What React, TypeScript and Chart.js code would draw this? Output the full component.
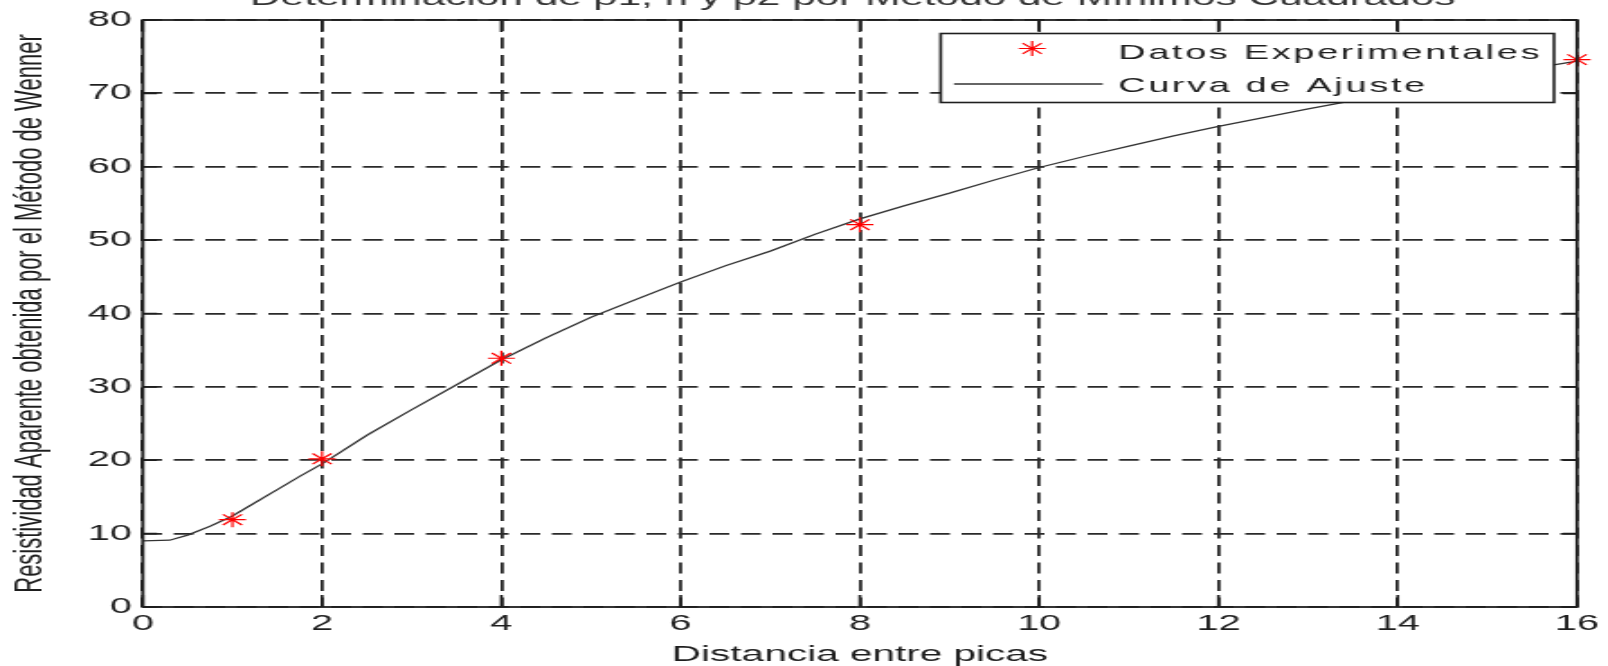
import { useEffect, useRef } from 'react';
import { Chart, registerables } from 'chart.js';

Chart.register(...registerables);

// ---------- data ----------
const TITLE = 'Determinación de ρ1, h y ρ2 por Método de Mínimos Cuadrados';
const X_TITLE = 'Distancia entre picas';
const Y_TITLE = 'Resistividad Aparente obtenida por el Método de Wenner';
const SERIES_LABELS = ['Datos Experimentales', 'Curva de Ajuste'];

const expX = [1, 2, 4, 8, 16];
const expY = [11.9, 20.2, 33.9, 52.1, 74.6];

const fitX = [0, 0.3, 0.5, 0.75, 1, 1.25, 1.5, 1.75, 2, 2.5, 3, 3.5, 4, 4.5, 5, 5.5, 6, 6.5, 7, 7.5, 8, 8.5, 9, 9.5, 10, 10.5, 11, 11.5, 12, 12.5, 13, 13.5, 14, 14.5, 15, 15.5, 16];
const fitY = [9.0, 9.1, 9.8, 11.0, 12.4, 14.2, 16.0, 17.8, 19.5, 23.4, 26.9, 30.3, 33.7, 36.7, 39.5, 41.9, 44.3, 46.5, 48.5, 50.8, 52.9, 54.7, 56.4, 58.2, 59.9, 61.4, 62.8, 64.2, 65.5, 66.7, 67.9, 69.0, 70.1, 71.2, 72.3, 73.4, 74.4];

const X_MIN = 0, X_MAX = 16, X_STEP = 2;
const Y_MIN = 0, Y_MAX = 80, Y_STEP = 10;

// ---------- styles ----------
const FONT = "'Liberation Sans', Arial, Helvetica, sans-serif";
const INK = '#1e1e1e';
const GRID = '#2a2a2a';
const RED = '#ff0000';
const CANVAS_W = 893; // drawn narrow, shown stretched like the reference
const CANVAS_H = 666;

function drawStar(ctx: CanvasRenderingContext2D, x: number, y: number, r: number) {
  const d = Math.cos(Math.PI / 4) * r;
  ctx.beginPath();
  ctx.moveTo(x - r, y); ctx.lineTo(x + r, y);
  ctx.moveTo(x, y - r); ctx.lineTo(x, y + r);
  ctx.moveTo(x - d, y - d); ctx.lineTo(x + d, y + d);
  ctx.moveTo(x - d, y + d); ctx.lineTo(x + d, y - d);
  ctx.stroke();
}

const boxPlugin = {
  id: 'matlabBox',
  afterDatasetsDraw(chart: any) {
    const { ctx, chartArea: a, scales } = chart;
    ctx.save();
    ctx.strokeStyle = INK;
    ctx.setLineDash([]);
    ctx.lineWidth = 1.6;
    const tl = 12, tlY = 8;
    ctx.beginPath();
    scales.x.ticks.forEach((t: any) => {
      const px = scales.x.getPixelForValue(t.value);
      ctx.moveTo(px, a.bottom); ctx.lineTo(px, a.bottom - tl);
      ctx.moveTo(px, a.top); ctx.lineTo(px, a.top + tl);
    });
    scales.y.ticks.forEach((t: any) => {
      const py = scales.y.getPixelForValue(t.value);
      ctx.moveTo(a.left, py); ctx.lineTo(a.left + tlY, py);
      ctx.moveTo(a.right, py); ctx.lineTo(a.right - tlY, py);
    });
    ctx.stroke();
    ctx.lineWidth = 1.8;
    ctx.strokeRect(a.left, a.top, a.right - a.left, a.bottom - a.top);
    ctx.restore();
  },
};

const legendPlugin = {
  id: 'matlabLegend',
  afterDraw(chart: any) {
    const { ctx } = chart;
    const L = { left: 522.4, top: 33.5, right: 863, bottom: 102.5 };
    ctx.save();
    ctx.fillStyle = '#ffffff';
    ctx.fillRect(L.left, L.top, L.right - L.left, L.bottom - L.top);
    ctx.strokeStyle = INK;
    ctx.lineWidth = 1.6;
    ctx.setLineDash([]);
    ctx.strokeRect(L.left, L.top, L.right - L.left, L.bottom - L.top);
    ctx.strokeStyle = RED;
    ctx.lineWidth = 1.2;
    drawStar(ctx, 573.2, 48.5, 7.5);
    ctx.strokeStyle = '#333333';
    ctx.lineWidth = 1.3;
    ctx.beginPath();
    ctx.moveTo(529.8, 84); ctx.lineTo(612.4, 84);
    ctx.stroke();
    const labels = chart.data.datasets.map((d: any) => d.label);
    ctx.fillStyle = INK;
    ctx.font = `21px ${FONT}`;
    (ctx as any).letterSpacing = '1.5px';
    ctx.textAlign = 'left';
    ctx.textBaseline = 'alphabetic';
    ctx.fillText(labels[0], 621, 58.5);
    ctx.fillText(labels[1], 621, 91.7);
    ctx.restore();
  },
};

const titlePlugin = {
  id: 'cutTitle',
  afterDraw(chart: any) {
    const { ctx, chartArea: a } = chart;
    ctx.save();
    ctx.fillStyle = '#333333';
    ctx.font = `23.5px ${FONT}`;
    ctx.textAlign = 'center';
    ctx.textBaseline = 'alphabetic';
    ctx.fillText(TITLE, (a.left + a.right) / 2 - 4, 5);
    ctx.restore();
  },
};

export default function App() {
  const ref = useRef<HTMLCanvasElement | null>(null);

  useEffect(() => {
    document.body.style.margin = '0';
    document.body.style.overflow = 'hidden';
    const canvas = ref.current;
    if (!canvas) return;
    const chart = new Chart(canvas, {
      type: 'scatter',
      data: {
        datasets: [
          {
            label: SERIES_LABELS[0],
            data: expX.map((x, i) => ({ x, y: expY[i] })),
            showLine: false,
            pointStyle: 'star',
            pointRadius: 7.5,
            pointBorderColor: RED,
            pointBackgroundColor: RED,
            pointBorderWidth: 1.2,
            clip: false,
          } as any,
          {
            label: SERIES_LABELS[1],
            data: fitX.map((x, i) => ({ x, y: fitY[i] })),
            showLine: true,
            borderColor: '#333333',
            borderWidth: 1.3,
            pointRadius: 0,
            tension: 0,
          },
        ],
      },
      options: {
        animation: false,
        responsive: false,
        devicePixelRatio: 1,
        events: [],
        layout: { padding: { top: 20, right: 17.2, left: 0, bottom: 0 }, autoPadding: false } as any,
        plugins: {
          legend: { display: false },
          title: { display: false },
          tooltip: { enabled: false },
        },
        scales: {
          x: {
            type: 'linear',
            min: X_MIN,
            max: X_MAX,
            afterFit: (s: any) => { s.height = 59; },
            ticks: {
              stepSize: X_STEP,
              color: INK,
              padding: 4,
              maxRotation: 0,
              font: { family: FONT, size: 22 },
            },
            grid: { color: GRID, lineWidth: 1.8, drawTicks: false },
            border: { display: false, dash: [11, 6.5] },
            title: {
              display: true,
              text: X_TITLE,
              color: INK,
              font: { family: FONT, size: 22.5 },
              padding: { top: 0, bottom: -2 },
            },
          },
          y: {
            type: 'linear',
            min: Y_MIN,
            max: Y_MAX,
            afterFit: (s: any) => { s.width = 79.3; },
            ticks: {
              stepSize: Y_STEP,
              color: INK,
              padding: 6,
              font: { family: FONT, size: 22 },
            },
            grid: { color: GRID, lineWidth: 1.8, drawTicks: false },
            border: { display: false, dash: [11, 6.5] },
            title: {
              display: true,
              text: Y_TITLE,
              color: INK,
              font: { family: FONT, size: 22 },
              padding: { top: 4, bottom: 0 },
            },
          },
        },
      },
      plugins: [boxPlugin, legendPlugin, titlePlugin],
    });
    return () => chart.destroy();
  }, []);

  return (
    <canvas
      ref={ref}
      width={CANVAS_W}
      height={CANVAS_H}
      style={{ display: 'block', width: '1608px', height: '666px' }}
    />
  );
}
